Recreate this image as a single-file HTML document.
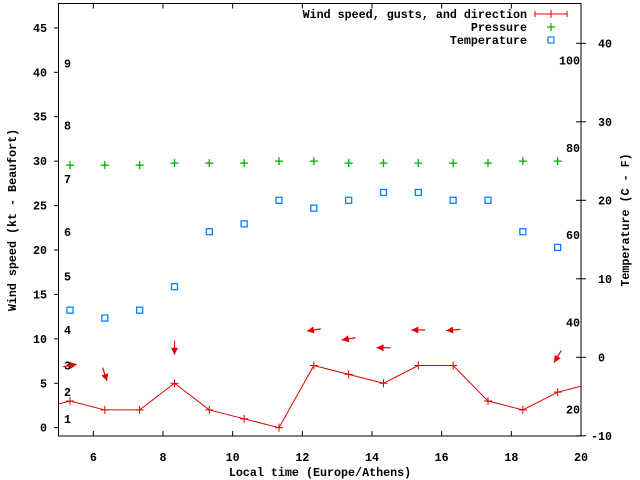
<!DOCTYPE html>
<html><head><meta charset="utf-8">
<style>
html,body{margin:0;padding:0;background:#fff;}
svg{display:block;}
text{font-family:"Liberation Mono","DejaVu Sans Mono",monospace;font-weight:bold;font-size:11.7px;fill:#000;}
</style></head>
<body>
<svg id="chart" width="640" height="480" viewBox="0 0 640 480">
  <rect x="0" y="0" width="640" height="480" fill="#fff"/>
  <g id="grid-ticks"></g>
  <g id="marks"></g>
  <rect x="58.5" y="3.5" width="522.5" height="432.5" fill="none" stroke="#000" stroke-width="1"/>
  <text x="13" y="220" text-anchor="middle" dominant-baseline="middle" transform="rotate(-90 13 220)">Wind speed (kt - Beaufort)</text>
  <text x="626" y="220" text-anchor="middle" dominant-baseline="middle" transform="rotate(-90 626 220)">Temperature (C - F)</text>
  <text x="320" y="476" text-anchor="middle">Local time (Europe/Athens)</text>
  <g>
    <text x="527" y="18" text-anchor="end">Wind speed, gusts, and direction</text>
    <g stroke="#e00000" stroke-width="1">
      <line x1="535" y1="14" x2="567" y2="14"/><line x1="535" y1="11" x2="535" y2="17"/><line x1="567" y1="11" x2="567" y2="17"/><line x1="551" y1="10" x2="551" y2="18"/>
    </g>
    <text x="527" y="31" text-anchor="end">Pressure</text>
    <g stroke="#00b000" stroke-width="1.2"><line x1="547" y1="27" x2="555" y2="27"/><line x1="551" y1="23" x2="551" y2="31"/></g>
    <text x="527" y="44" text-anchor="end">Temperature</text>
    <rect x="548" y="37" width="6" height="6" fill="none" stroke="#0a80ff" stroke-width="1.2"/>
  </g>
</svg>
<script>
// ---- data ----
const times = [5.33,6.33,7.33,8.33,9.33,10.33,11.33,12.33,13.33,14.33,15.33,16.33,17.33,18.33,19.33];
const windLineTimes = [4.33,5.33,6.33,7.33,8.33,9.33,10.33,11.33,12.33,13.33,14.33,15.33,16.33,17.33,18.33,19.33,20.33];
const windSpeed = [2,3,2,2,5,2,1,0,7,6,5,7,7,3,2,4,5];
const pressure = [29.55,29.55,29.55,29.78,29.78,29.78,30.0,30.0,29.78,29.78,29.78,29.78,29.78,30.0,30.0];
const temperatureC = [6,5,6,9,16,17,20,19,20,21,21,20,20,16,14];
const arrowTimes = [5.33,6.33,8.33,12.33,13.33,14.33,15.33,16.33,19.33];
const gustSpeed = [7,6,9,11,10,9,11,11,8];
const windFrom = [260,342,0,81,81,90,90,85,31];
const xTicks = [6,8,10,12,14,16,18,20];
const yTicks = [0,5,10,15,20,25,30,35,40,45];
const y2Ticks = [-10,0,10,20,30,40];
const fahrenheitTicks = [20,40,60,80,100];
const beaufortLabels = ["1","2","3","4","5","6","7","8","9"];
const beaufortKnots = [1,4,7,11,17,22,28,34,41];

// ---- axes ----
const X0=58.5, X1=581, T0=5, T1=20;
function xs(t){return X0+(t-T0)*(X1-X0)/(T1-T0);}
function ys(v){return 427.7-8.885*v;}
function yc(c){return 357.3-7.85*c;}
function yf(f){return yc((f-32)*5/9);}

const NS="http://www.w3.org/2000/svg";
const ticksG=document.getElementById('grid-ticks');
const marksG=document.getElementById('marks');
function mk(tag,attrs,parent){const e=document.createElementNS(NS,tag);for(const k in attrs)e.setAttribute(k,attrs[k]);parent.appendChild(e);return e;}
function cross(x,y,s,color,w,parent){
  const g=mk('g',{stroke:color,'stroke-width':w},parent);
  mk('line',{x1:x-s,y1:y,x2:x+s,y2:y},g);mk('line',{x1:x,y1:y-s,x2:x,y2:y+s},g);return g;
}

xTicks.forEach(t=>{
  const x=xs(t);
  const tk=mk('g',{stroke:'#000','stroke-width':1},ticksG);
  
  
  mk('line',{x1:x,y1:436,x2:x,y2:431},tk);mk('line',{x1:x,y1:3.5,x2:x,y2:8.5},tk);
  const lb=mk('text',{x:x,y:461,'text-anchor':'middle'},ticksG);
  lb.textContent=String(t);
  
  
});
yTicks.forEach(v=>{
  const y=ys(v);
  const tk=mk('line',{x1:54,y1:y,x2:58.5,y2:y,stroke:'#000'},ticksG);
  
  
  const lb=mk('text',{x:47,y:y+4,'text-anchor':'end'},ticksG);
  lb.textContent=String(v);
  
  
});
y2Ticks.forEach(c=>{
  const y=yc(c);
  const tk=mk('line',{x1:576,y1:y,x2:586,y2:y,stroke:'#000'},ticksG);
  
  
  const lb=mk('text',{x:c<0?591:598,y:y+4},ticksG);
  lb.textContent=String(c);
  
  
});
fahrenheitTicks.forEach(f=>{
  const lb=mk('text',{x:580,y:yf(f)+4,'text-anchor':'end'},ticksG);
  lb.textContent=String(f);
  
  
});
beaufortLabels.forEach((b,i)=>{
  const lb=mk('text',{x:64,y:ys(beaufortKnots[i])+4},ticksG);
  lb.textContent=b;
  
  
});

// clip
const defs=mk('defs',{},marksG);
const cp=mk('clipPath',{id:'clip'},defs);
mk('rect',{x:X0,y:3.5,width:X1-X0,height:432.5},cp);
const clipped=mk('g',{'clip-path':'url(#clip)'},marksG);

// wind line
const pts=windLineTimes.map((t,i)=>xs(t)+','+ys(windSpeed[i])).join(' ');
const wl=mk('polyline',{points:pts,fill:'none',stroke:'#e00000','stroke-width':1},clipped);


windLineTimes.forEach((t,i)=>{
  if(t<T0||t>T1)return;
  const c=cross(xs(t),ys(windSpeed[i]),4,'#e00000',1,clipped);
  
  
});

// pressure
times.forEach((t,i)=>{
  const c=cross(xs(t),ys(pressure[i]),4,'#00b000',1.3,marksG);
  
  
});
// temperature
times.forEach((t,i)=>{
  const r=mk('rect',{x:xs(t)-3,y:yc(temperatureC[i])-3,width:6,height:6,fill:'none',stroke:'#0a80ff','stroke-width':1.3},marksG);
  
  
});
// wind direction arrows
arrowTimes.forEach((t,i)=>{
  const cx=xs(t), cy=ys(gustSpeed[i]);
  const toRad=(windFrom[i]+180)*Math.PI/180; // compass "to"
  const dx=Math.sin(toRad), dy=-Math.cos(toRad);
  const L=7;
  const hx=cx+dx*L, hy=cy+dy*L, tx=cx-dx*L, ty=cy-dy*L;
  const g=mk('g',{},marksG);
  
  
  mk('line',{x1:tx,y1:ty,x2:hx,y2:hy,stroke:'#e00000','stroke-width':1.2},g);
  const px=-dy, py=dx, bl=7, hw=3.5;
  const bx=hx-dx*bl, by=hy-dy*bl;
  mk('polygon',{points:`${hx},${hy} ${bx+px*hw},${by+py*hw} ${bx-px*hw},${by-py*hw}`,fill:'#e00000'},g);
});
</script>
</body></html>
